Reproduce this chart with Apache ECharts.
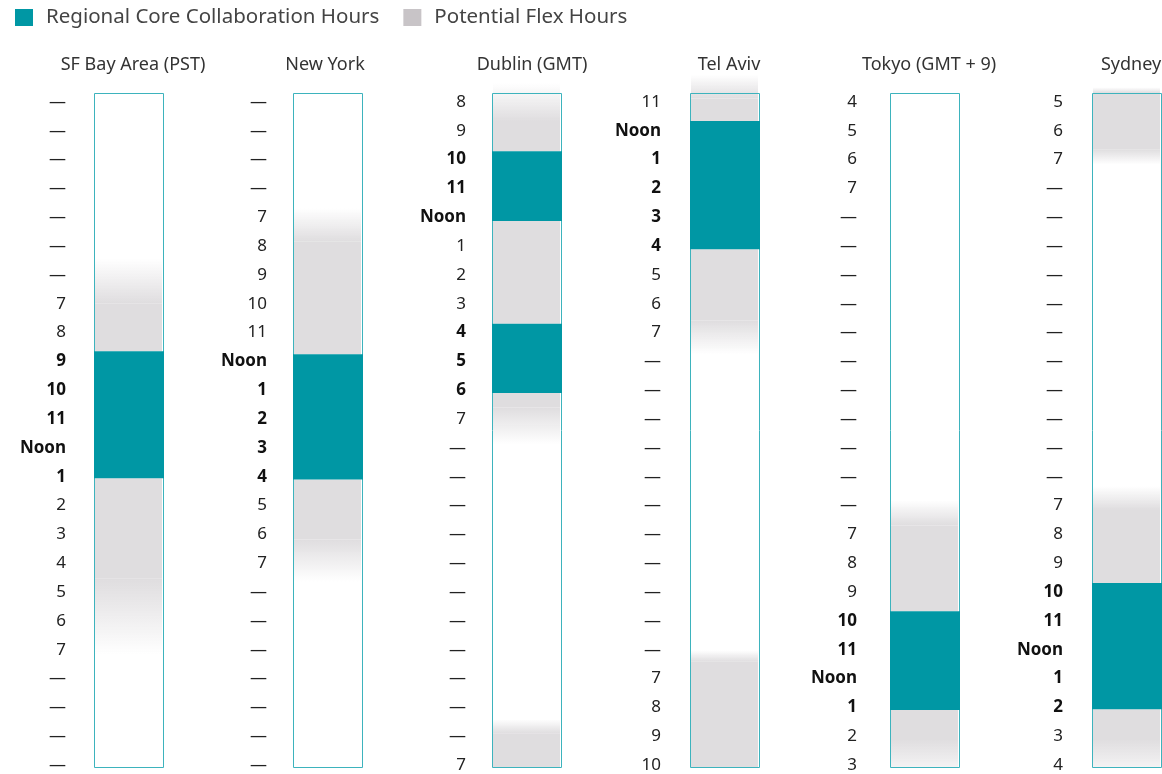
<!DOCTYPE html>
<html>
<head>
<meta charset="utf-8">
<script src="https://cdn.jsdelivr.net/npm/echarts@6/dist/echarts.min.js"></script>
<style>
html, body { margin: 0; padding: 0; background: #fff; }
#chart { width: 1162px; height: 774px; }
</style>
</head>
<body>
<div id="chart"></div>
<script>
// --- data ---
const D = '—'
const cities = ['SF Bay Area (PST)', 'New York', 'Dublin (GMT)', 'Tel Aviv', 'Tokyo (GMT + 9)', 'Sydney']

const sfLabels = [D, D, D, D, D, D, D, '7', '8', '9', '10', '11', 'Noon', '1', '2', '3', '4', '5', '6', '7', D, D, D, D]
const nyLabels = [D, D, D, D, '7', '8', '9', '10', '11', 'Noon', '1', '2', '3', '4', '5', '6', '7', D, D, D, D, D, D, D]
const dublinLabels = ['8', '9', '10', '11', 'Noon', '1', '2', '3', '4', '5', '6', '7', D, D, D, D, D, D, D, D, D, D, D, '7']
const telAvivLabels = ['11', 'Noon', '1', '2', '3', '4', '5', '6', '7', D, D, D, D, D, D, D, D, D, D, D, '7', '8', '9', '10']
const tokyoLabels = ['4', '5', '6', '7', D, D, D, D, D, D, D, D, D, D, D, '7', '8', '9', '10', '11', 'Noon', '1', '2', '3']
const sydneyLabels = ['5', '6', '7', D, D, D, D, D, D, D, D, D, D, D, '7', '8', '9', '10', '11', 'Noon', '1', '2', '3', '4']

// rows shown in bold (core hours)
const sfBold = [9, 10, 11, 12, 13]
const nyBold = [9, 10, 11, 12, 13]
const dublinBold = [2, 3, 4, 8, 9, 10]
const telAvivBold = [1, 2, 3, 4, 5]
const tokyoBold = [18, 19, 20, 21]
const sydneyBold = [17, 18, 19, 20, 21]

// core blocks [from, to] in hours from the top of the bar
const sfCore = [[9.2, 13.72]]
const nyCore = [[9.3, 13.76]]
const dublinCore = [[2.07, 4.56], [8.22, 10.68]]
const telAvivCore = [[1.0, 5.56]]
const tokyoCore = [[18.45, 21.97]]
const sydneyCore = [[17.45, 21.94]]

// flex blocks [from, to, kind] - kind: solid | in (fades in) | out (fades out)
const sfFlex = [[5.9, 7.5, 'in'], [7.5, 9.2, 'solid'], [13.72, 17.3, 'solid'], [17.3, 20.0, 'out']]
const nyFlex = [[4.1, 5.3, 'in'], [5.3, 9.3, 'solid'], [13.76, 15.9, 'solid'], [15.9, 17.4, 'out']]
const dublinFlex = [[-0.35, 1.0, 'in'], [1.0, 2.07, 'solid'], [4.56, 8.22, 'solid'], [10.68, 11.2, 'solid'], [11.2, 12.5, 'out'], [22.3, 22.8, 'in'], [22.8, 24, 'solid']]
const telAvivFlex = [[-0.65, 0.2, 'in'], [0.2, 1.0, 'solid'], [5.56, 8.1, 'solid'], [8.1, 9.3, 'out'], [19.85, 20.25, 'in'], [20.25, 24, 'solid']]
const tokyoFlex = [[14.5, 15.4, 'in'], [15.4, 18.45, 'solid'], [21.97, 23.0, 'solid'], [23.0, 24.6, 'out']]
const sydneyFlex = [[-0.2, 0, 'in'], [0, 2.0, 'solid'], [2.0, 2.55, 'out'], [14.0, 14.85, 'in'], [14.85, 17.45, 'solid'], [21.94, 23.0, 'solid'], [23.0, 24.6, 'out']]

// --- layout / style ---
const labels = [sfLabels, nyLabels, dublinLabels, telAvivLabels, tokyoLabels, sydneyLabels]
const bolds = [sfBold, nyBold, dublinBold, telAvivBold, tokyoBold, sydneyBold]
const cores = [sfCore, nyCore, dublinCore, telAvivCore, tokyoCore, sydneyCore]
const flexes = [sfFlex, nyFlex, dublinFlex, telAvivFlex, tokyoFlex, sydneyFlex]

const barLeft = [94, 293, 492, 690, 890, 1092]
const labelRight = [66, 267, 466, 661, 857, 1063]
const titleCenter = [128, 320, 527, 724, 924, 1126]
const BAR_W = 69
const BAR_TOP = 93
const BAR_H = 674

const FONT = 'Noto Sans'
const TEAL = '#0097a4'
const FRAME = '#3db3bd'
const FLEX = '#dfdddf'
const FLEX_CLEAR = 'rgba(223,221,223,0)'
const LEGEND_GRAY = '#c8c4c7'
const CORE_NAME = 'Regional Core Collaboration Hours'
const FLEX_NAME = 'Potential Flex Hours'
const KIND = { solid: 0, in: 1, out: 2 }

function renderFlex (params, api) {
  const cs = params.coordSys
  const y0 = api.coord([0, api.value(1)])[1]
  const y1 = api.coord([0, api.value(2)])[1]
  const kind = api.value(3)
  let fill = FLEX
  if (kind === 1) {
    fill = new echarts.graphic.LinearGradient(0, y0, 0, y1, [
      { offset: 0, color: FLEX_CLEAR }, { offset: 1, color: FLEX }
    ], true)
  } else if (kind === 2) {
    fill = new echarts.graphic.LinearGradient(0, y0, 0, y1, [
      { offset: 0, color: FLEX }, { offset: 1, color: FLEX_CLEAR }
    ], true)
  }
  const yEnd = Math.min(y1, cs.y + cs.height)
  return {
    type: 'rect',
    shape: { x: cs.x + 1, y: y0, width: cs.width - 2, height: yEnd - y0 },
    style: { fill: fill }
  }
}

function renderCore (params, api) {
  const cs = params.coordSys
  const y0 = api.coord([0, api.value(1)])[1]
  const y1 = api.coord([0, api.value(2)])[1]
  return {
    type: 'rect',
    shape: { x: cs.x, y: y0, width: cs.width + 1, height: y1 - y0 },
    style: { fill: TEAL }
  }
}

function renderFrame (params, api) {
  const cs = params.coordSys
  const y0 = api.coord([0, api.value(1)])[1]
  const y1 = api.coord([0, api.value(2)])[1]
  return {
    type: 'rect',
    shape: { x: cs.x + 0.5, y: y0 + 0.5, width: cs.width, height: y1 - y0 },
    style: { fill: null, stroke: FRAME, lineWidth: 1 }
  }
}

const grids = []
const xAxes = []
const yAxes = []
const series = []
const titles = []

cities.forEach((city, i) => {
  const lg = i * 2
  const bg = i * 2 + 1
  const boldSet = bolds[i]

  titles.push({
    text: city,
    left: titleCenter[i],
    top: 51,
    textAlign: 'center',
    textStyle: { fontFamily: FONT, fontSize: 18, fontWeight: 'normal', color: '#333' }
  })

  // label column
  grids.push({ left: labelRight[i], top: 102, width: 1, height: 663 })
  xAxes.push({ gridIndex: lg, type: 'value', show: false })
  yAxes.push({
    gridIndex: lg,
    type: 'category',
    inverse: true,
    boundaryGap: false,
    data: labels[i],
    axisLine: { show: false },
    axisTick: { show: false },
    splitLine: { show: false },
    axisLabel: {
      interval: 0,
      margin: 0,
      fontFamily: FONT,
      fontSize: 17,
      color: '#222',
      formatter: (v, idx) => boldSet.indexOf(idx) > -1 ? '{b|' + v + '}' : v,
      rich: {
        b: { fontFamily: FONT, fontSize: 17, fontWeight: 'bold', color: '#111' }
      }
    }
  })

  // bar column
  grids.push({ left: barLeft[i], top: BAR_TOP, width: BAR_W, height: BAR_H })
  xAxes.push({ gridIndex: bg, type: 'category', data: ['h'], show: false })
  yAxes.push({ gridIndex: bg, type: 'value', min: 0, max: 24, inverse: true, show: false })

  series.push({
    name: FLEX_NAME,
    type: 'custom',
    xAxisIndex: bg,
    yAxisIndex: bg,
    z: 2,
    silent: true,
    renderItem: renderFlex,
    data: flexes[i].map(f => [0, f[0], f[1], KIND[f[2]]])
  })
  series.push({
    type: 'custom',
    xAxisIndex: bg,
    yAxisIndex: bg,
    z: 3,
    silent: true,
    renderItem: renderFrame,
    data: [[0, 0, 24]]
  })
  series.push({
    name: CORE_NAME,
    type: 'custom',
    xAxisIndex: bg,
    yAxisIndex: bg,
    z: 4,
    silent: true,
    renderItem: renderCore,
    data: cores[i].map(c => [0, c[0], c[1]])
  })
})

const chart = echarts.init(document.getElementById('chart'))
chart.setOption({
  animation: false,
  title: titles,
  legend: {
    left: 10,
    top: 2,
    icon: 'rect',
    itemWidth: 18,
    itemHeight: 17,
    itemGap: 24,
    selectedMode: false,
    data: [
      { name: CORE_NAME, itemStyle: { color: TEAL } },
      { name: FLEX_NAME, itemStyle: { color: LEGEND_GRAY } }
    ],
    textStyle: { fontFamily: FONT, fontSize: 20.5, color: '#444', padding: [0, 0, 0, 8] }
  },
  grid: grids,
  xAxis: xAxes,
  yAxis: yAxes,
  series: series
})
</script>
</body>
</html>
